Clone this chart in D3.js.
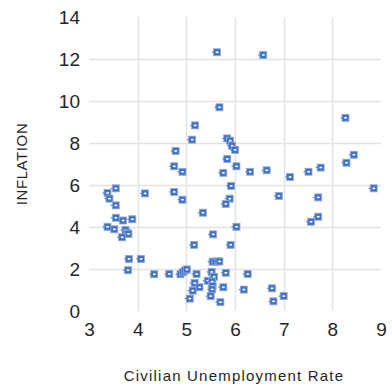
<!DOCTYPE html>
<html>
<head>
<meta charset="utf-8">
<script src="https://cdn.jsdelivr.net/npm/d3@7"></script>
<style>
  html, body { margin: 0; padding: 0; background: #fff; }
  svg { display: block; }
  text { font-family: "Liberation Sans", Arial, sans-serif; fill: #262626; }
</style>
</head>
<body>
<svg id="chart" width="392" height="387"></svg>
<script>
// Data
const unemployment = [5.63, 6.58, 5.68, 8.27, 5.18, 5.12, 5.84, 5.90, 5.94, 6.00,
  4.78, 8.44, 8.29, 5.84, 4.75, 4.92, 5.76, 6.03, 6.31, 6.65,
  7.13, 7.51, 7.76, 8.85, 6.90, 7.71, 7.56, 7.71, 5.92, 5.89,
  5.81, 5.34, 6.03, 5.55, 5.16, 5.91, 4.75, 4.92, 4.15, 3.55,
  3.38, 3.42, 3.55, 3.55, 3.70, 3.89, 3.38, 3.52, 3.75, 3.79,
  3.81, 3.68, 3.82, 4.07, 3.80, 4.34, 4.65, 4.88, 4.93, 4.97,
  5.01, 5.21, 5.52, 5.81, 6.26, 5.57, 5.44, 5.53, 5.17, 5.27,
  5.54, 5.53, 5.13, 5.76, 5.50, 5.07, 5.70, 6.18, 6.76, 6.79,
  7.00, 5.54, 5.60, 5.65, 5.68];
const inflation = [12.32, 12.19, 9.70, 9.20, 8.84, 8.16, 8.22, 8.11, 7.87, 7.67,
  7.62, 7.44, 7.06, 7.24, 6.89, 6.63, 6.58, 6.89, 6.63, 6.70,
  6.38, 6.63, 6.83, 5.84, 5.48, 5.41, 4.25, 4.49, 5.96, 5.35,
  5.10, 4.68, 4.01, 3.65, 3.15, 3.15, 5.67, 5.30, 5.60, 5.84,
  5.62, 5.35, 5.03, 4.44, 4.31, 4.37, 4.01, 3.89, 3.86, 3.73,
  3.67, 3.51, 2.48, 2.48, 1.94, 1.75, 1.76, 1.75, 1.85, 1.93,
  1.98, 1.76, 1.86, 1.82, 1.76, 1.63, 1.44, 1.40, 1.33, 1.13,
  1.19, 1.03, 0.97, 1.13, 0.71, 0.59, 0.42, 1.02, 1.08, 0.46,
  0.71, 2.35, 2.35, 2.36, 2.36];
const xTicks = [3, 4, 5, 6, 7, 8, 9];
const yTicks = [0, 2, 4, 6, 8, 10, 12, 14];
const xTitle = "Civilian Unemployment Rate";
const yTitle = "INFLATION";

const svg = d3.select("#chart");
const margin = { left: 89, top: 17, right: 11, bottom: 76 };
const W = 392, H = 387;
const x = d3.scaleLinear().domain([3, 9]).range([margin.left, W - margin.right]);
const y = d3.scaleLinear().domain([0, 14]).range([H - margin.bottom, margin.top]);

// gridlines
const grid = svg.append("g");
grid.selectAll("line.v").data(xTicks.filter(d => d > 3 && d < 9)).join("line")
  .attr("x1", d => Math.round(x(d)) + 0.5).attr("x2", d => Math.round(x(d)) + 0.5)
  .attr("y1", y(14)).attr("y2", y(0))
  .attr("stroke", "#e3e3e3").attr("stroke-width", 1.5);
grid.selectAll("line.h").data(yTicks.filter(d => d > 0 && d < 14)).join("line")
  .attr("y1", d => Math.round(y(d)) + 0.5).attr("y2", d => Math.round(y(d)) + 0.5)
  .attr("x1", x(3)).attr("x2", x(9))
  .attr("stroke", "#e3e3e3").attr("stroke-width", 1.5);

// axes (labels only)
const xAxis = d3.axisBottom(x).tickValues(xTicks).tickSize(0).tickPadding(12).tickFormat(d3.format("d"));
const gx = svg.append("g").attr("transform", `translate(0,${y(0)})`).call(xAxis);
gx.select(".domain").remove();
gx.selectAll("text").style("font-size", "19px").attr("fill", "#262626");

const yAxis = d3.axisLeft(y).tickValues(yTicks).tickSize(0).tickPadding(9).tickFormat(d3.format("d"));
const gy = svg.append("g").attr("transform", `translate(${x(3)},0)`).call(yAxis);
gy.select(".domain").remove();
gy.selectAll("text").style("font-size", "19px").attr("fill", "#262626");

// titles
svg.append("text").attr("x", 234).attr("y", 381)
  .attr("text-anchor", "middle").style("font-size", "15px").style("letter-spacing", "1.2px").text(xTitle);
svg.append("text").attr("transform", `translate(27,${(y(0) + y(14)) / 2}) rotate(-90)`)
  .attr("text-anchor", "middle").style("font-size", "15px").style("letter-spacing", "0.6px").text(yTitle);

// points
const pts = d3.range(unemployment.length).map(i => ({ u: unemployment[i], v: inflation[i] }));
const g = svg.append("g");
const m = g.selectAll("g.pt").data(pts).join("g")
  .attr("transform", d => `translate(${x(d.u)},${y(d.v)})`);
m.append("rect").attr("x", -3.5).attr("y", -3.5).attr("width", 7).attr("height", 7)
  .attr("fill", "#4472C4").attr("stroke", "#8eaadb").attr("stroke-width", 0.8);
m.append("rect").attr("x", -1.2).attr("y", -0.8).attr("width", 2.6).attr("height", 1.6)
  .attr("fill", "#ffffff");
m.append("rect").attr("x", -5).attr("y", -0.5).attr("width", 1.5).attr("height", 1)
  .attr("fill", "#4472C4");
</script>
</body>
</html>
